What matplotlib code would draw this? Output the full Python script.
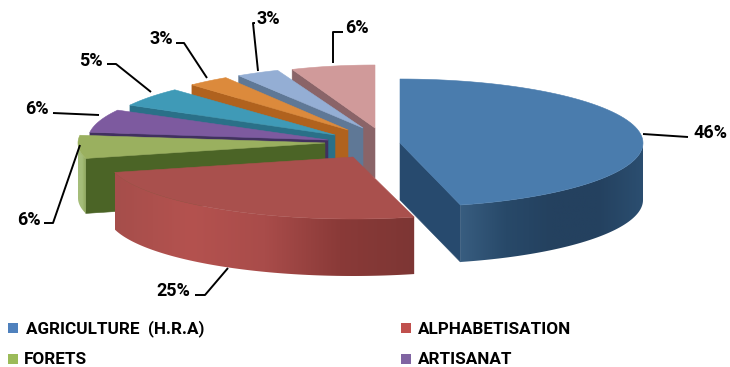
import numpy as np
import matplotlib
matplotlib.use('Agg')
import matplotlib.pyplot as plt
from matplotlib.colors import LinearSegmentedColormap
from matplotlib.patches import Polygon, Rectangle

plt.rcParams['font.family'] = ['Roboto', 'DejaVu Sans']

# Share of each sector, clockwise from twelve o'clock
values = [46, 25, 6, 6, 5, 3, 3, 6]
legend_labels = ['AGRICULTURE  (H.R.A)', 'ALPHABETISATION', 'FORETS', 'ARTISANAT']
legend_colors = ['#4f81bd', '#c0504d', '#9bbb59', '#8064a2']

top_colors = ['#4a7cad', '#a9504d', '#9ab05f', '#7d5a9f', '#3f9ab7', '#dc8a3c', '#94aed4', '#d09a9a']
cut_colors = ['#274a6e', '#7d3634', '#4b6426', '#41305f', '#2a7088', '#b0621e', '#5f7896', '#8a6468']
# rim shading, left to right across each slice
rim_colors = [
    ['#385d80', '#284969', '#24415f', '#24415f', '#2b4e70'],
    ['#a64e4b', '#b4524f', '#a94c4a', '#8a3a38', '#7d3634'],
    ['#a5bd7a', '#a5bd7a', '#8fa85c'],
    ['#5b4180', '#5b4180'],
    ['#2a7088', '#2a7088'],
    ['#b0621e', '#b0621e'],
    ['#5f7896', '#5f7896'],
    ['#8a6468', '#8a6468'],
]

# Exploded layout in pixels: apex of each slice, radii and wall height
apex_x = [400, 353, 325, 328, 335, 348, 363, 375]
apex_y = [143, 157, 143, 140, 135, 130, 128, 128]
rad_x = [243, 246, 247, 240, 234, 228, 232, 225]
rad_y = [64, 62, 62, 62, 62, 62, 62, 63]
depth = [57, 57, 55, 50, 50, 50, 50, 50]

# Value labels and their elbow leaders
pct_text = ['46%', '25%', '6%', '6%', '5%', '3%', '3%', '6%']
pct_pos = [(710, 133), (173, 291), (29, 220), (37, 109), (91, 61), (161, 39), (268, 19), (357, 28)]
leaders = [
    [(643, 134), (688, 137)],
    [(228, 268), (205, 295), (195, 295)],
    [(80, 145), (53, 223), (44, 223)],
    [(99, 115), (53, 113)],
    [(151, 92), (116, 64), (107, 64)],
    [(207, 78), (184, 43), (176, 43)],
    [(258, 71), (253, 23), (255, 23)],
    [(333, 63), (333, 32), (343, 32)],
]


def rim_point(i, deg):
    a = np.radians(deg)
    return apex_x[i] + rad_x[i] * np.sin(a), apex_y[i] - rad_y[i] * np.cos(a)


def draw_cut(ax, i, deg):
    x, y = rim_point(i, deg)
    d = depth[i]
    pts = [(apex_x[i], apex_y[i]), (x, y), (x, y + d), (apex_x[i], apex_y[i] + d)]
    ax.add_patch(Polygon(pts, fc=cut_colors[i], ec=cut_colors[i], lw=0.4))


def draw_rim(ax, i, start, end):
    # only the part of the wall facing the viewer
    lo, hi = max(start, 90), min(end, 270)
    if lo >= hi:
        return
    cmap = LinearSegmentedColormap.from_list('rim', rim_colors[i])
    angles = np.linspace(lo, hi, 80)
    xs, ys = rim_point(i, angles)
    outline = list(zip(xs, ys)) + list(zip(xs[::-1], ys[::-1] + depth[i]))
    clip = Polygon(outline, fc='none', ec='none', transform=ax.transData)
    ax.add_patch(clip)
    grad = np.linspace(0, 1, 256).reshape(1, -1)
    im = ax.imshow(grad, cmap=cmap, aspect='auto', interpolation='bilinear',
                   extent=(xs.min(), xs.max(), ys.max() + depth[i], ys.min()), zorder=1)
    im.set_clip_path(clip)


def draw_top(ax, i, start, end):
    angles = np.linspace(start, end, 80)
    xs, ys = rim_point(i, angles)
    pts = [(apex_x[i], apex_y[i])] + list(zip(xs, ys))
    ax.add_patch(Polygon(pts, fc=top_colors[i], ec=top_colors[i], lw=0.4))


fig = plt.figure(figsize=(7.30, 3.67), dpi=100)
ax = fig.add_axes([0, 0, 1, 1])

edges = np.concatenate([[0], np.cumsum(values)]) * 3.6

# Painter's order: rear slices first, the two big front slices last
for i in [7, 6, 5, 4, 3, 2, 0, 1]:
    start, end = edges[i], edges[i + 1]
    if np.sin(np.radians(start)) < 0:
        draw_cut(ax, i, start)
    if np.sin(np.radians(end)) > 0:
        draw_cut(ax, i, end)
    draw_rim(ax, i, start, end)
    draw_top(ax, i, start, end)

for pts in leaders:
    xs, ys = zip(*pts)
    ax.plot(xs, ys, color='black', lw=1.4, solid_capstyle='butt')

for txt, (x, y) in zip(pct_text, pct_pos):
    ax.text(x, y, txt, fontsize=13, fontweight='bold', ha='center', va='center', color='black')

# Legend, two columns
legend_x = [13, 406, 13, 406]
legend_tx = [26, 418, 24, 418]
legend_y = [329, 329, 360, 360]
for name, col, sx, tx, y in zip(legend_labels, legend_colors, legend_x, legend_tx, legend_y):
    ax.add_patch(Rectangle((sx - 5, y - 6), 10, 10, fc=col, ec='none'))
    ax.text(tx, y, name, fontsize=12.3, fontweight='bold', ha='left', va='center', color='black')

ax.set_xlim(0, 730)
ax.set_ylim(367, 0)
ax.axis('off')

fig.savefig('out.png', dpi=100)
